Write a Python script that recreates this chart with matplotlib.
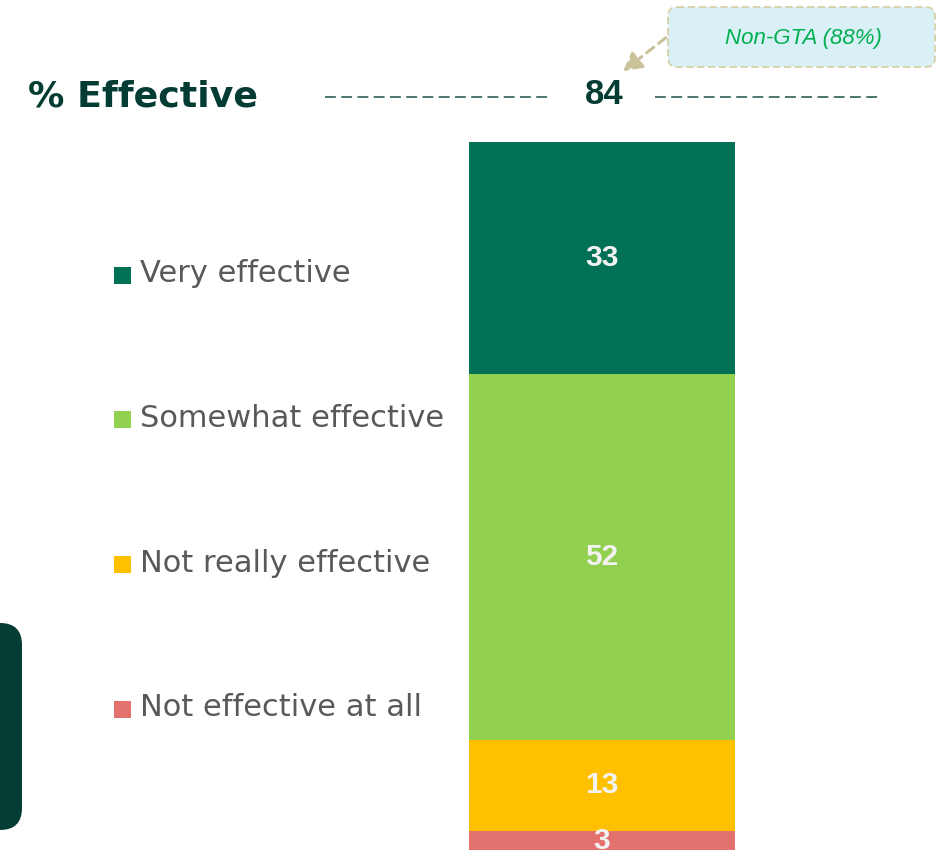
import matplotlib.pyplot as plt
from matplotlib.patches import FancyBboxPatch, Rectangle
from matplotlib.lines import Line2D

# data
categories = ["Very effective", "Somewhat effective", "Not really effective", "Not effective at all"]
values = [33, 52, 13, 3]
colors = ["#007155", "#92D050", "#FFC000", "#E3726E"]
total_effective = 84
callout_text = "Non-GTA (88%)"

DARK = "#023C33"
GREY = "#595959"

W, H = 940, 850
fig = plt.figure(figsize=(W / 100, H / 100), dpi=100)

# decoration layer in pixel coordinates
deco = fig.add_axes([0, 0, 1, 1])
deco.set_xlim(0, W)
deco.set_ylim(H, 0)
deco.axis("off")

# title and total
deco.text(28, 96, "% Effective", fontsize=26.2, fontweight="bold", color=DARK,
          family="DejaVu Sans", ha="left", va="center")
deco.text(604, 94, str(total_effective), fontsize=25, fontweight="bold", color=DARK,
          family="Liberation Sans", ha="center", va="center")
for x0, x1 in [(325, 552), (655, 882)]:
    deco.add_line(Line2D([x0, x1], [97, 97], color="#3F6B66", lw=1.3,
                         linestyle=(0, (6, 3))))

# callout box
box = FancyBboxPatch((668, 7), 267, 60, boxstyle="round,pad=0,rounding_size=9",
                     facecolor="#DAF0F7", edgecolor="#D8D0A8", lw=1.3,
                     linestyle=(0, (4, 2)))
deco.add_patch(box)
deco.text(803, 38, callout_text, fontsize=16, style="italic", color="#00B050",
          family="Liberation Sans", ha="center", va="center")
deco.annotate("", xy=(621, 73), xytext=(668, 36),
              arrowprops=dict(arrowstyle="-|>,head_length=1.1,head_width=0.6",
                              color="#C9C29A", lw=2.2, linestyle=(0, (3, 2))))

# dark rounded block at left edge
deco.add_patch(FancyBboxPatch((-40, 623), 62, 207, boxstyle="round,pad=0,rounding_size=22",
                              facecolor=DARK, edgecolor="none"))

# legend
legend_y = [274, 418, 563, 708]
for cat, col, y in zip(categories, colors, legend_y):
    deco.add_patch(Rectangle((114, y - 7), 17, 17, facecolor=col, edgecolor="none"))
    deco.text(140, y, cat, fontsize=22, color=GREY, family="DejaVu Sans",
              ha="left", va="center")

# stacked bar
bar_top = 142
scale = 7.03
ax = fig.add_axes([469 / W, 0, (735 - 469) / W, (H - bar_top) / H])
ax.set_xlim(-0.5, 0.5)
ax.set_ylim((H - bar_top) / scale, 0)
ax.axis("off")

bottom = 0
for val, col in zip(values, colors):
    ax.bar(0, val, bottom=bottom, width=1.0, color=col, edgecolor="none")
    ax.text(0, bottom + val / 2, str(val), ha="center", va="center", fontsize=21.5,
            fontweight="bold", color="#F2F2F2", family="Liberation Sans")
    bottom += val

fig.savefig("out.png", dpi=100)
